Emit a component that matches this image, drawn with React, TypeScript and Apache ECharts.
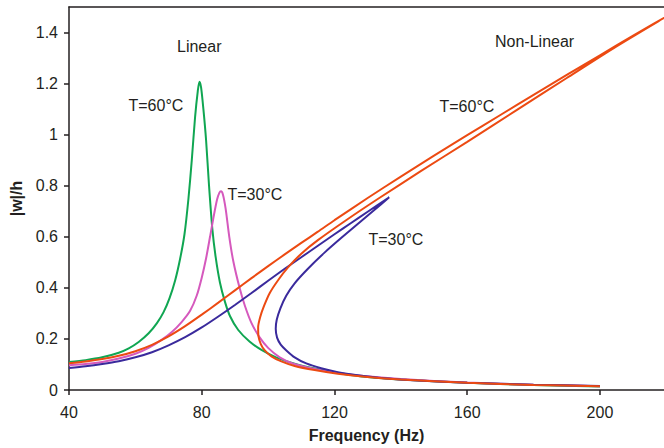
import React, { useEffect, useRef } from "react";
import * as echarts from "echarts";

const xTicks = [40, 80, 120, 160, 200];
const yTicks = [0, 0.2, 0.4, 0.6, 0.8, 1, 1.2, 1.4];

// Linear, T=60°C (green)
const linear60X = [40, 45, 50, 55, 58, 61, 64, 66.5, 68.5, 70.3, 72, 73.5, 74.8, 76, 77, 78, 78.8, 79.3, 79.8, 80.5, 81.3, 82.2, 83.2, 84.2, 85.5, 87, 88.5, 91, 94.4, 98, 102.4, 108, 114.5, 122, 130, 140, 160, 180, 200];
const linear60Y = [0.11, 0.117, 0.128, 0.146, 0.163, 0.188, 0.222, 0.262, 0.305, 0.36, 0.43, 0.515, 0.61, 0.75, 0.9, 1.07, 1.17, 1.207, 1.185, 1.1, 0.98, 0.8, 0.63, 0.52, 0.42, 0.345, 0.29, 0.235, 0.19, 0.157, 0.128, 0.103, 0.083, 0.065, 0.051, 0.041, 0.028, 0.02, 0.014];

// Linear, T=30°C (pink)
const linear30X = [40, 45, 50, 55, 60, 64, 68, 71, 74, 76.5, 78.5, 80, 81.3, 82.5, 83.6, 84.6, 85.3, 85.8, 86.4, 87.2, 88.3, 89.5, 91.4, 93, 95, 97.5, 100, 103.5, 107.4, 113, 119.5, 128, 140, 160, 180, 200];
const linear30Y = [0.097, 0.102, 0.11, 0.123, 0.142, 0.165, 0.197, 0.227, 0.267, 0.31, 0.37, 0.44, 0.515, 0.6, 0.68, 0.745, 0.772, 0.778, 0.765, 0.71, 0.6, 0.505, 0.4, 0.33, 0.262, 0.205, 0.165, 0.128, 0.104, 0.085, 0.07, 0.056, 0.043, 0.029, 0.021, 0.015];

// Non-linear, T=30°C (blue): upper branch to the jump point, then back along the lower branch
const nonlin30X = [40, 45, 50, 55, 60, 65, 70, 75, 80, 85, 90, 95, 100, 105, 110, 115, 120, 125, 130, 136.5, 132, 127, 122, 117, 112, 108, 105.5, 103.7, 102.6, 102.3, 102.7, 103.8, 105.5, 108, 111.5, 116, 121, 127, 135, 145, 160, 180, 200];
const nonlin30Y = [0.086, 0.093, 0.102, 0.113, 0.128, 0.148, 0.175, 0.207, 0.245, 0.288, 0.333, 0.38, 0.428, 0.475, 0.52, 0.565, 0.61, 0.654, 0.698, 0.755, 0.705, 0.65, 0.595, 0.538, 0.475, 0.418, 0.37, 0.32, 0.275, 0.24, 0.205, 0.178, 0.155, 0.128, 0.104, 0.085, 0.07, 0.058, 0.046, 0.037, 0.028, 0.021, 0.016];

// Non-linear, T=60°C (red)
const nonlin60X = [40, 45, 50, 55, 60, 65, 70, 75, 80, 85, 90, 95, 100, 105, 110, 115, 120, 130, 140, 150, 160, 170, 180, 190, 200, 210, 223, 219, 205, 190, 175, 160, 146, 133.5, 123.5, 115, 110, 106, 103, 100.5, 98.8, 97.6, 97, 97.1, 97.8, 99, 101, 104, 108, 114, 121, 130, 140, 160, 180, 200];
const nonlin60Y = [0.105, 0.112, 0.121, 0.134, 0.152, 0.177, 0.21, 0.25, 0.295, 0.342, 0.39, 0.438, 0.485, 0.531, 0.576, 0.62, 0.665, 0.752, 0.836, 0.918, 0.998, 1.077, 1.156, 1.234, 1.311, 1.388, 1.485, 1.455, 1.346, 1.222, 1.097, 0.972, 0.857, 0.752, 0.665, 0.587, 0.534, 0.48, 0.43, 0.38, 0.33, 0.285, 0.245, 0.21, 0.18, 0.155, 0.132, 0.112, 0.094, 0.078, 0.064, 0.051, 0.041, 0.028, 0.02, 0.015];

const FONT = '"Liberation Sans", Arial, Helvetica, sans-serif';
const TEXT_COLOR = "#231f20";

const pairs = (xs: number[], ys: number[]) => xs.map((x, i) => [x, ys[i]]);

export default function App() {
  const ref = useRef<HTMLDivElement>(null);
  useEffect(() => {
    if (!ref.current) return;
    const chart = echarts.init(ref.current, undefined, { renderer: "svg" });
    const lineSeries = (name: string, data: number[][], color: string) => ({
      name,
      type: "line",
      data,
      showSymbol: false,
      symbol: "none",
      smooth: 0.25,
      lineStyle: { color, width: 2 },
      itemStyle: { color },
      z: 3,
    });
    const txt = (text: string, x: number, y: number) => ({
      type: "text",
      x,
      y,
      style: {
        text,
        fill: TEXT_COLOR,
        font: `16px ${FONT}`,
        textAlign: "left",
        textVerticalAlign: "middle",
      },
      z: 10,
    });
    chart.setOption({
      animation: false,
      backgroundColor: "#ffffff",
      grid: { left: 69, right: 0, top: 7, bottom: 55, containLabel: false },
      xAxis: [
        {
          type: "value",
          min: 40,
          max: 219.3,
          name: "Frequency (Hz)",
          nameLocation: "middle",
          nameGap: 37,
          nameTextStyle: { fontFamily: FONT, fontSize: 16, fontWeight: "bold", color: TEXT_COLOR },
          axisLine: { show: true, onZero: false, lineStyle: { color: TEXT_COLOR, width: 1.5 } },
          axisTick: { show: true, customValues: xTicks, length: 5, lineStyle: { color: TEXT_COLOR, width: 1.5 } },
          axisLabel: { customValues: xTicks, fontFamily: FONT, fontSize: 16, color: TEXT_COLOR, margin: 14 },
          splitLine: { show: false },
        },
        {
          type: "value",
          position: "top",
          min: 40,
          max: 219.3,
          axisLine: { show: true, onZero: false, lineStyle: { color: TEXT_COLOR, width: 1.5 } },
          axisTick: { show: false },
          axisLabel: { show: false },
          splitLine: { show: false },
        },
      ],
      yAxis: {
        type: "value",
        min: 0,
        max: 1.5,
        name: "|w|/h",
        nameLocation: "middle",
        nameGap: 37,
        nameTextStyle: { fontFamily: FONT, fontSize: 16, fontWeight: "bold", color: TEXT_COLOR },
        axisLine: { show: true, onZero: false, lineStyle: { color: TEXT_COLOR, width: 1.5 } },
        axisTick: { show: true, customValues: yTicks, length: 5, lineStyle: { color: TEXT_COLOR, width: 1.5 } },
        axisLabel: { customValues: yTicks, fontFamily: FONT, fontSize: 16, color: TEXT_COLOR, margin: 11 },
        splitLine: { show: false },
      },
      series: [
        lineSeries("Linear T=60°C", pairs(linear60X, linear60Y), "#10a652"),
        lineSeries("Linear T=30°C", pairs(linear30X, linear30Y), "#d559bd"),
        lineSeries("Non-Linear T=30°C", pairs(nonlin30X, nonlin30Y), "#3a2a9c"),
        lineSeries("Non-Linear T=60°C", pairs(nonlin60X, nonlin60Y), "#ec4a12"),
      ],
      graphic: [
        txt("Linear", 177, 46.5),
        txt("T=60°C", 128.5, 105),
        txt("T=30°C", 227.5, 194),
        txt("T=30°C", 368.5, 239),
        txt("T=60°C", 439.5, 106),
        txt("Non-Linear", 495, 41.5),
      ],
    });
    return () => chart.dispose();
  }, []);
  return (
    <div
      ref={ref}
      style={{ position: "fixed", left: 0, top: 0, width: 664, height: 448, background: "#fff" }}
    />
  );
}
